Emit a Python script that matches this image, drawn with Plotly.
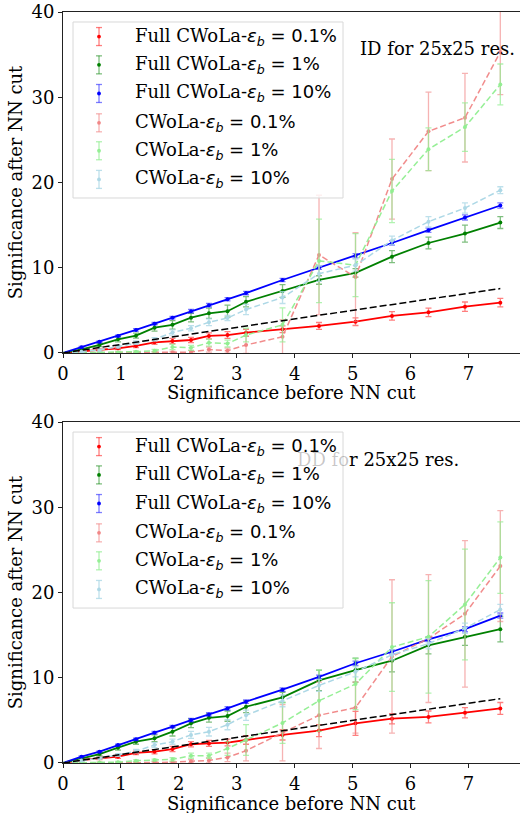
import plotly.graph_objects as go

# ---------------- data ----------------
x_sig = [0, 0.32, 0.63, 0.95, 1.26, 1.58, 1.89, 2.21, 2.52, 2.84, 3.16, 3.79, 4.42, 5.05, 5.68, 6.31, 6.94, 7.55]
diag_x = [0, 7.55]
diag_y = [0, 7.55]

eps_values = ["0.1%", "1%", "10%"]
series_prefix = ["Full ", "Full ", "Full ", "", "", ""]

# ID panel (top)
id_full01 = [0, 0.15, 0.35, 0.55, 0.82, 1.25, 1.4, 1.52, 2.0, 2.1, 2.38, 2.78, 3.17, 3.67, 4.34, 4.77, 5.43, 5.9]
id_full01_err = [0, 0.1, 0.1, 0.15, 0.2, 0.25, 0.3, 0.3, 0.35, 0.4, 0.4, 0.4, 0.4, 0.45, 0.5, 0.5, 0.55, 0.5]
id_full1 = [0, 0.43, 0.94, 1.6, 2.03, 2.97, 3.3, 4.14, 4.65, 4.9, 6.0, 7.27, 8.56, 9.4, 11.3, 12.9, 14.0, 15.3]
id_full1_err = [0, 0.1, 0.2, 0.3, 0.3, 0.4, 0.5, 0.5, 0.6, 0.7, 0.6, 0.75, 0.5, 0.5, 0.7, 0.7, 1.0, 0.7]
id_full10 = [0, 0.67, 1.3, 2.0, 2.7, 3.44, 4.14, 4.9, 5.6, 6.3, 7.03, 8.56, 10.0, 11.4, 12.9, 14.4, 15.9, 17.3]
id_full10_err = [0, 0.1, 0.1, 0.1, 0.15, 0.15, 0.15, 0.2, 0.2, 0.2, 0.2, 0.2, 0.2, 0.25, 0.25, 0.25, 0.3, 0.3]
id_cw01 = [0, 0.0, 0.02, 0.03, 0.05, 0.05, 0.08, 0.1, 0.4, 0.27, 0.94, 1.9, 11.5, 8.9, 20.4, 26.0, 27.6, 35.3]
id_cw01_err = [0, 0, 0.05, 0.05, 0.05, 0.1, 0.1, 0.2, 0.3, 0.3, 1.0, 2.0, 7.0, 5.2, 4.7, 4.6, 5.2, 5.0]
id_cw1 = [0, 0.02, 0.03, 0.05, 0.15, 0.27, 0.7, 0.6, 1.2, 1.1, 2.1, 3.3, 10.8, 10.3, 19.0, 23.9, 26.5, 31.5]
id_cw1_err = [0, 0.05, 0.05, 0.1, 0.1, 0.15, 0.3, 0.3, 0.4, 0.4, 0.8, 2.0, 4.9, 3.7, 3.7, 2.5, 2.85, 2.4]
id_cw10 = [0, 0.15, 0.35, 0.74, 1.2, 1.6, 2.4, 2.9, 3.6, 4.1, 5.1, 6.5, 9.3, 10.3, 13.2, 15.4, 17.0, 19.1]
id_cw10_err = [0, 0.1, 0.1, 0.15, 0.2, 0.2, 0.3, 0.3, 0.4, 0.3, 0.6, 0.7, 0.9, 0.7, 0.5, 0.6, 0.6, 0.4]

# DD panel (bottom)
dd_full01 = [0, 0.35, 0.55, 0.74, 1.2, 1.33, 1.64, 2.2, 2.3, 2.4, 2.7, 3.3, 3.8, 4.65, 5.2, 5.4, 5.9, 6.4]
dd_full01_err = [0, 0.1, 0.15, 0.2, 0.2, 0.25, 0.3, 0.3, 0.35, 0.4, 0.5, 0.6, 0.7, 1.4, 0.6, 0.7, 0.6, 0.7]
dd_full1 = [0, 0.55, 1.05, 1.8, 2.5, 2.9, 3.67, 4.65, 5.3, 5.5, 6.6, 7.7, 9.7, 10.9, 12.0, 13.8, 14.8, 15.7]
dd_full1_err = [0, 0.1, 0.2, 0.3, 0.3, 0.4, 0.5, 0.5, 0.5, 0.6, 0.7, 0.6, 1.2, 1.4, 1.3, 1.0, 1.0, 1.5]
dd_full10 = [0, 0.74, 1.33, 2.1, 2.78, 3.56, 4.26, 5.04, 5.7, 6.4, 7.2, 8.6, 10.1, 11.7, 13.05, 14.5, 15.7, 17.3]
dd_full10_err = [0, 0.1, 0.1, 0.1, 0.15, 0.15, 0.15, 0.2, 0.2, 0.2, 0.2, 0.2, 0.2, 0.25, 0.25, 0.25, 0.3, 0.3]
dd_cw01 = [0, 0.0, 0.02, 0.03, 0.05, 0.05, 0.1, 0.2, 0.3, 0.66, 1.45, 3.55, 5.6, 6.5, 12.5, 14.6, 17.5, 23.1]
dd_cw01_err = [0, 0, 0.05, 0.05, 0.05, 0.1, 0.1, 0.2, 0.3, 0.5, 1.2, 3.3, 3.9, 3.0, 9.0, 7.5, 8.6, 6.5]
dd_cw1 = [0, 0.05, 0.05, 0.1, 0.27, 0.35, 0.43, 0.86, 0.86, 1.7, 2.7, 4.7, 7.3, 9.26, 13.6, 14.8, 18.6, 24.1]
dd_cw1_err = [0, 0.05, 0.05, 0.1, 0.1, 0.1, 0.2, 0.3, 0.3, 0.8, 1.8, 2.4, 3.6, 3.0, 5.2, 6.6, 6.5, 4.2]
dd_cw10 = [0, 0.3, 0.55, 0.94, 1.4, 2.1, 2.5, 3.3, 3.67, 4.5, 5.6, 7.3, 9.1, 10.7, 12.7, 14.0, 15.8, 18.0]
dd_cw10_err = [0, 0.1, 0.1, 0.15, 0.2, 0.3, 0.3, 0.4, 0.5, 0.6, 0.6, 0.7, 0.7, 0.6, 0.6, 0.6, 0.6, 0.6]

x_ticks = [0, 1, 2, 3, 4, 5, 6, 7]
y_ticks = [0, 10, 20, 30, 40]
x_title = "Significance before NN cut"
y_title = "Significance after NN cut"

# ---------------- styling ----------------
SERIF = "DejaVu Serif"
SANS = "DejaVu Sans"
FS = 18
line_colors = ["#ff0000", "#008000", "#0000ff",
               "rgba(240,128,128,0.9)", "rgba(144,238,144,0.95)", "rgba(173,216,230,1)"]
err_colors = ["rgba(255,0,0,0.5)", "rgba(0,128,0,0.5)", "rgba(0,0,255,0.5)",
              "rgba(240,128,128,0.6)", "rgba(144,238,144,0.7)", "rgba(173,216,230,0.8)"]
dashes = ["solid", "solid", "solid", "6px,3px", "6px,3px", "6px,3px"]
widths = [1.8, 1.8, 1.8, 1.5, 1.5, 1.5]

labels = []
for i in range(6):
    eps = eps_values[i % 3]
    labels.append(
        f"{series_prefix[i]}CWoLa-<span style='font-family:{SANS}'><i>ε</i><sub><i>b</i></sub> = {eps}</span>"
    )

panels = [
    dict(xa="x", ya="y",
         ys=[id_full01, id_full1, id_full10, id_cw01, id_cw1, id_cw10],
         es=[id_full01_err, id_full1_err, id_full10_err, id_cw01_err, id_cw1_err, id_cw10_err],
         text="ID for 25x25 res.", tx=0.6455),
    dict(xa="x2", ya="y2",
         ys=[dd_full01, dd_full1, dd_full10, dd_cw01, dd_cw1, dd_cw10],
         es=[dd_full01_err, dd_full1_err, dd_full10_err, dd_cw01_err, dd_cw1_err, dd_cw10_err],
         text="<span style='color:rgba(0,0,0,0.22)'>DD fo</span>r 25x25 res.", tx=0.5077),
]

fig = go.Figure()
shapes = []
annotations = []

leg_rows = [0.928, 0.845, 0.761, 0.675, 0.593, 0.509]
for p in panels:
    for i in range(6):
        fig.add_trace(go.Scatter(
            x=x_sig, y=p["ys"][i], xaxis=p["xa"], yaxis=p["ya"],
            mode="lines+markers", showlegend=False,
            line=dict(color=line_colors[i], width=widths[i], dash=dashes[i]),
            marker=dict(color=line_colors[i], size=4),
            error_y=dict(type="data", array=p["es"][i], color=err_colors[i],
                         thickness=1.3, width=3),
        ))
    fig.add_trace(go.Scatter(
        x=diag_x, y=diag_y, xaxis=p["xa"], yaxis=p["ya"], mode="lines",
        showlegend=False, line=dict(color="black", width=1.5, dash="7px,3px"),
    ))
    xr = p["xa"] + " domain"
    yr = p["ya"] + " domain"
    # legend frame
    shapes.append(dict(type="rect", xref=xr, yref=yr, x0=0.0219, x1=0.6127,
                       y0=0.4545, y1=0.9707, line=dict(color="#d8d8d8", width=1),
                       fillcolor="rgba(255,255,255,0.8)", layer="above"))
    gx = 0.0788
    for i, yy in enumerate(leg_rows):
        dy = 0.0264
        cw = 0.0066
        shapes.append(dict(type="line", xref=xr, yref=yr, x0=gx, x1=gx, y0=yy - dy, y1=yy + dy,
                           line=dict(color=err_colors[i], width=1.3), layer="above"))
        for cy in (yy - dy, yy + dy):
            shapes.append(dict(type="line", xref=xr, yref=yr, x0=gx - cw, x1=gx + cw, y0=cy, y1=cy,
                               line=dict(color=err_colors[i], width=1.3), layer="above"))
        shapes.append(dict(type="circle", xref=xr, yref=yr, x0=gx - 0.0042, x1=gx + 0.0042,
                           y0=yy - 0.0056, y1=yy + 0.0056, fillcolor=line_colors[i],
                           line=dict(width=0), layer="above"))
        annotations.append(dict(xref=xr, yref=yr, x=0.1532, y=yy, xanchor="left", yanchor="middle",
                                text=labels[i], showarrow=False,
                                font=dict(family=SERIF, size=FS, color="black")))
    annotations.append(dict(xref=xr, yref=yr, x=p["tx"], y=0.8915, xanchor="left", yanchor="middle",
                            text=p["text"], showarrow=False,
                            font=dict(family=SERIF, size=FS, color="black")))
    # x-axis title
    annotations.append(dict(xref=xr, yref=yr, x=0.5, y=0, yshift=-40, xanchor="center",
                            yanchor="middle", text=x_title, showarrow=False,
                            font=dict(family=SERIF, size=FS, color="black")))

axis_common = dict(
    showgrid=False, zeroline=False, showline=True, linecolor="#222", linewidth=1,
    ticks="outside", ticklen=4, tickwidth=1, tickcolor="#222",
    tickfont=dict(family=SERIF, size=FS, color="black"),
)
ytitle = dict(text=y_title, font=dict(family=SERIF, size=FS, color="black"), standoff=4)

fig.update_layout(
    width=520, height=813,
    margin=dict(l=63, r=0, t=12, b=50),
    paper_bgcolor="white", plot_bgcolor="white",
    xaxis=dict(axis_common, range=[0, 7.89], tickvals=x_ticks, anchor="y", mirror=True),
    yaxis=dict(axis_common, range=[0, 40], tickvals=y_ticks, domain=[0.546, 1.0], anchor="x", title=ytitle),
    xaxis2=dict(axis_common, range=[0, 7.89], tickvals=x_ticks, anchor="y2", mirror=True),
    yaxis2=dict(axis_common, range=[0, 40], tickvals=y_ticks, domain=[0.0, 0.454], anchor="x2", title=ytitle),
    shapes=shapes, annotations=annotations,
)

fig.write_html("out.html")
